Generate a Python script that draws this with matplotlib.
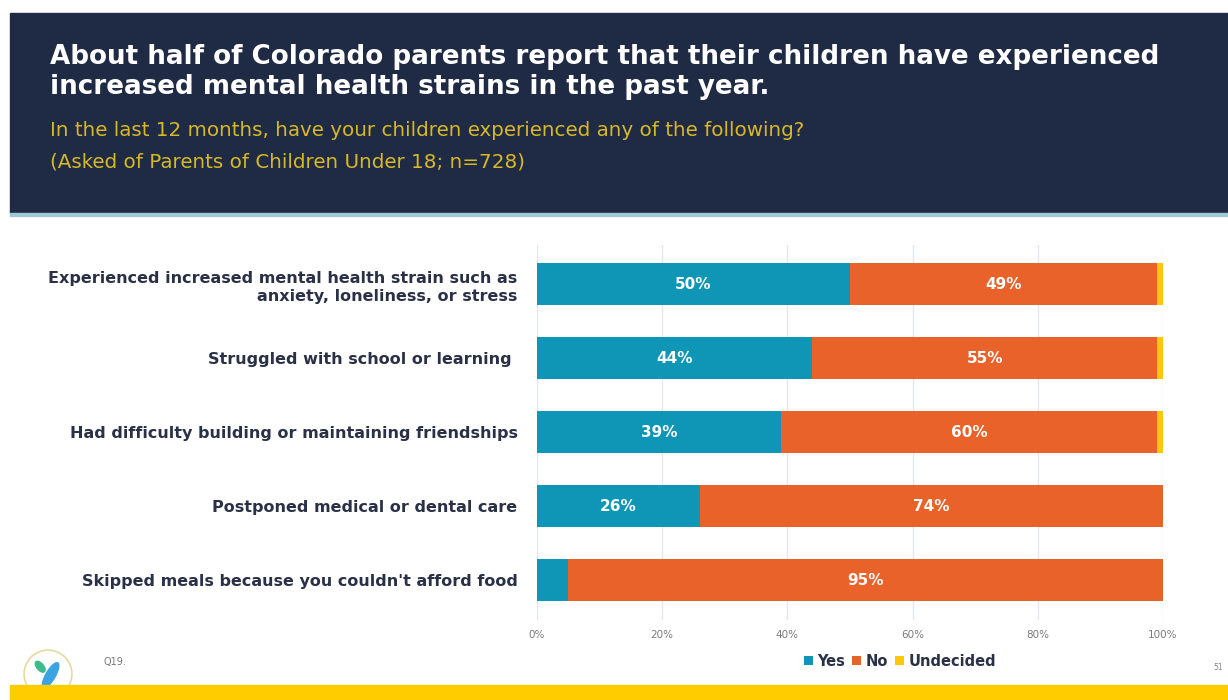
import matplotlib.pyplot as plt
from matplotlib.patches import Rectangle, Circle, Ellipse

# survey results (percent)
categories = [
    "Experienced increased mental health strain such as\nanxiety, loneliness, or stress",
    "Struggled with school or learning ",
    "Had difficulty building or maintaining friendships",
    "Postponed medical or dental care",
    "Skipped meals because you couldn't afford food",
]
yes_vals = [50, 44, 39, 26, 5]
no_vals = [49, 55, 60, 74, 95]
undecided_vals = [1, 1, 1, 0, 0]
series_names = ["Yes", "No", "Undecided"]
tick_vals = [0, 20, 40, 60, 80, 100]

NAVY = "#1f2a44"
TEAL = "#0f95b5"
ORANGE = "#e8622a"
GOLD = "#ffc70a"
LABEL = "#2a3147"

plt.rcParams['font.family'] = ['DejaVu Sans']

fig = plt.figure(figsize=(12.28, 7.0), dpi=100)
W, H = 1228, 700

# header band
fig.patches.append(Rectangle((10 / W, 1 - 213 / H), 1 - 10 / W, 200 / H,
                             transform=fig.transFigure, color=NAVY, zorder=0))
fig.patches.append(Rectangle((10 / W, 1 - 216 / H), 1 - 10 / W, 3 / H,
                             transform=fig.transFigure, color="#9fc9d6", zorder=0))
fig.text(50 / W, 1 - 72 / H,
         "About half of Colorado parents report that their children have experienced\n"
         "increased mental health strains in the past year.",
         color="white", fontsize=18.8, fontweight="bold", va="center", ha="left",
         linespacing=1.2)
fig.text(50 / W, 1 - 130 / H,
         "In the last 12 months, have your children experienced any of the following?",
         color="#d9b826", fontsize=14.3, va="center", ha="left")
fig.text(50 / W, 1 - 162 / H, "(Asked of Parents of Children Under 18; n=728)",
         color="#d9b826", fontsize=14.3, va="center", ha="left")

# footer band
fig.patches.append(Rectangle((10 / W, 0), 1 - 10 / W, 15 / H,
                             transform=fig.transFigure, color="#ffcc00", zorder=0))
ax_logo = fig.add_axes([22 / W, 0, 52 / W, 52 / H])
ax_logo.set_xlim(-1, 1)
ax_logo.set_ylim(-1, 1)
ax_logo.set_aspect("equal")
ax_logo.axis("off")
ax_logo.add_patch(Circle((0, 0), 0.92, facecolor="white", edgecolor="#e6d9a0", lw=1.2))
ax_logo.add_patch(Ellipse((-0.3, 0.28), 0.26, 0.5, angle=40, color="#3dbb8a"))
ax_logo.add_patch(Ellipse((0.1, -0.05), 0.36, 1.1, angle=-30, color="#3aa3e3"))
fig.text(103 / W, 1 - 662 / H, "Q19.", color="#777777", fontsize=7, va="center")
fig.text(1213 / W, 1 - 667 / H, "51", color="#888888", fontsize=5.5, va="center")

# chart
ax = fig.add_axes([537 / W, 1 - 620 / H, 626 / W, 375 / H])
y = list(range(len(categories)))
bar_h = 0.57
left_no = yes_vals
left_und = [a + b for a, b in zip(yes_vals, no_vals)]
b_yes = ax.barh(y, yes_vals, height=bar_h, color=TEAL, label=series_names[0], zorder=2)
b_no = ax.barh(y, no_vals, left=left_no, height=bar_h, color=ORANGE, label=series_names[1], zorder=2)
b_und = ax.barh(y, undecided_vals, left=left_und, height=bar_h, color=GOLD, label=series_names[2], zorder=2)

for bars, vals in ((b_yes, yes_vals), (b_no, no_vals)):
    for rect, v in zip(bars, vals):
        if v >= 10:
            ax.text(rect.get_x() + rect.get_width() / 2, rect.get_y() + rect.get_height() / 2,
                    f"{v}%", color="white", fontsize=11, fontweight="bold",
                    ha="center", va="center", zorder=3)

ax.set_xlim(0, 100)
ax.set_ylim(len(categories) - 1 + 0.54, -0.527)
ax.set_xticks(tick_vals)
ax.set_xticklabels([f"{t}%" for t in tick_vals], color="#7a7a7a", fontsize=7.5)
ax.set_yticks(y)
ax.set_yticklabels(categories, color=LABEL, fontsize=11.5, fontweight="bold", linespacing=1.3)
ax.tick_params(axis="both", length=0)
ax.tick_params(axis="y", pad=14)
ax.tick_params(axis="x", pad=7)
ax.xaxis.grid(True, color="#e3e6ee", lw=1, zorder=0)
for s in ax.spines.values():
    s.set_visible(False)

leg = fig.legend(handles=[b_yes, b_no, b_und], labels=series_names,
                 loc="center", bbox_to_anchor=(900 / W, 1 - 661 / H), ncol=3,
                 frameon=False, handlelength=0.6, handleheight=0.6, handletextpad=0.3,
                 columnspacing=0.5, prop={"weight": "bold", "size": 10.5})
for t in leg.get_texts():
    t.set_color(LABEL)

fig.savefig("out.png", dpi=100, facecolor="white")
